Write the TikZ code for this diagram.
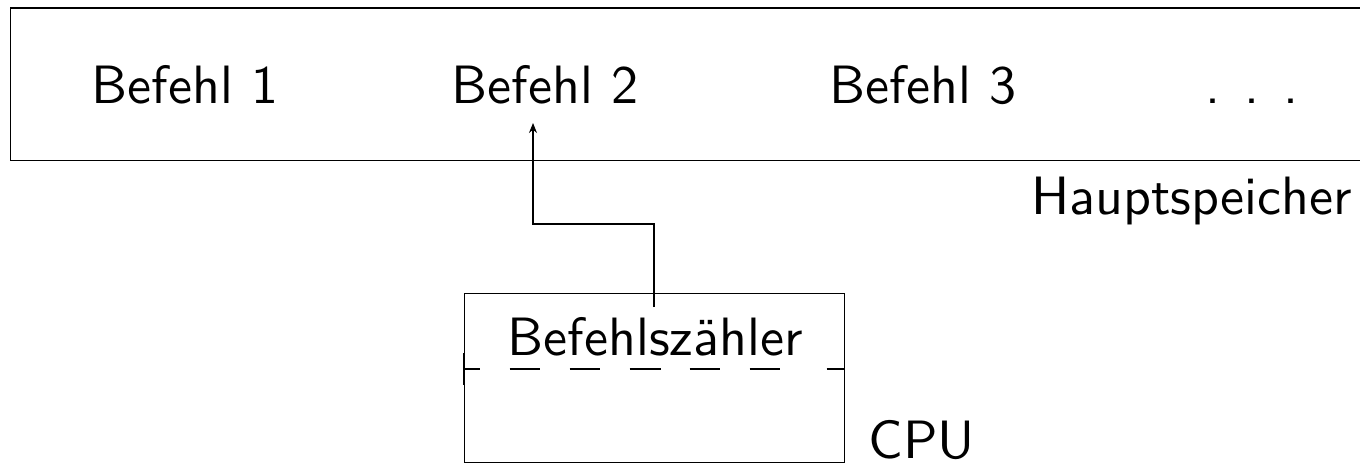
\documentclass[tikz,border=0pt]{standalone}
\usepackage{fontspec}
\usetikzlibrary{arrows.meta}
\begin{document}
\begin{tikzpicture}[x=1pt,y=-1pt,
  line width=1.1pt,
  lbl/.style={font=\sffamily\fontsize{10}{12}\selectfont, scale=5.4, transform shape, inner sep=0pt, anchor=base west},
  arr/.style={-{Stealth[length=10pt,width=8pt]}}]
\useasboundingbox (0,0) rectangle (1360,464);
% main memory (right edge beyond the picture)
\draw (1370,8) -- (10.5,8) -- (10.5,160.5) -- (1370,160.5);
\node[lbl] (b1) at (89,103) {Befehl 1};
\node[lbl] (b2) at (449,103) {Befehl 2};
\node[lbl] (b3) at (827,103) {Befehl 3};
\node[lbl] (dots) at (1203,103) {. . .};
\node[lbl, anchor=base east] (hs) at (1355,214) {Hauptspeicher};
% CPU
\node[draw, minimum width=380pt, minimum height=169pt, inner sep=0pt, anchor=north west] (cpu) at (463.5,292.5) {};
\node[lbl] (bz) at (505,355) {Befehlsz\"ahler};
\node[lbl] (cpul) at (866,458) {CPU};
\draw[dash pattern=on 16.5pt off 29.5pt on 30pt off 30pt on 30pt off 30pt on 31pt off 29pt on 30pt off 30pt on 30pt off 47pt on 20pt off 10pt]
  (cpu.west |- 0,369) -- (cpu.east |- 0,369);
\draw (cpu.west |- 0,353) -- (cpu.west |- 0,385);
\draw (cpu.east |- 0,353) -- (cpu.east |- 0,385);
% program counter pointer
\coordinate (ps) at (654,307);
\draw[arr] (ps) -- (654,224) -- (533,224) -- (533,123);
\end{tikzpicture}
\end{document}
